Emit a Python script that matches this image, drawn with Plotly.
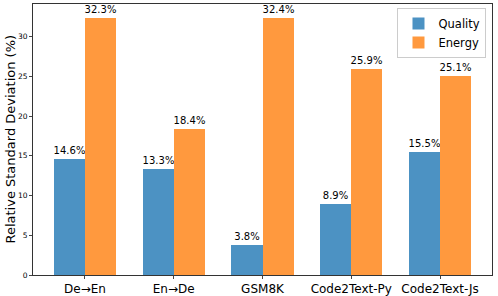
import plotly.graph_objects as go

categories = ["De→En", "En→De", "GSM8K", "Code2Text-Py", "Code2Text-Js"]
quality = [14.6, 13.3, 3.8, 8.9, 15.5]
energy = [32.3, 18.4, 32.4, 25.9, 25.1]
y_ticks = [0, 5, 10, 15, 20, 25, 30]

x = list(range(len(categories)))
w = 0.35
font = "DejaVu Sans"

fig = go.Figure()
fig.add_trace(go.Bar(
    x=[i - w / 2 for i in x], y=quality, width=w, name="Quality",
    marker=dict(color="#4c92c3", line=dict(width=0)),
    text=[f"{v:.1f}%" for v in quality], textposition="outside",
    constraintext="none", cliponaxis=False,
    outsidetextfont=dict(family=font, size=10, color="black"),
))
fig.add_trace(go.Bar(
    x=[i + w / 2 for i in x], y=energy, width=w, name="Energy",
    marker=dict(color="#ff993e", line=dict(width=0)),
    text=[f"{v:.1f}%" for v in energy], textposition="outside",
    constraintext="none", cliponaxis=False,
    outsidetextfont=dict(family=font, size=10, color="black"),
))

fig.add_annotation(
    text="Relative Standard Deviation (%)", textangle=-90,
    xref="paper", yref="paper", x=-0.05, y=0.5,
    xanchor="center", yanchor="middle", showarrow=False,
    font=dict(size=13, family=font, color="black"),
)

fig.update_layout(
    width=498, height=296,
    margin=dict(l=33, r=6, t=4, b=21, autoexpand=False),
    plot_bgcolor="white", paper_bgcolor="white",
    font=dict(family=font, color="black"),
    barmode="overlay", bargap=0,
    showlegend=True,
    legend=dict(x=0.988, y=0.985, xanchor="right", yanchor="top",
                bgcolor="rgba(255,255,255,0.8)", bordercolor="#cccccc",
                borderwidth=1, font=dict(size=11.5, family=font),
                tracegroupgap=0),
    xaxis=dict(range=[-0.585, 4.585], tickvals=x, ticktext=categories,
               tickfont=dict(size=12), showline=True, linecolor="#333333",
               linewidth=1, mirror=True, ticks="outside", ticklen=3,
               showgrid=False, zeroline=False, automargin=False),
    yaxis=dict(range=[0, 34.1], tickvals=y_ticks, tickfont=dict(size=7.5),
               showline=True, linecolor="#333333", linewidth=1, mirror=True,
               ticks="outside", ticklen=3, showgrid=False, zeroline=False,
               automargin=False),
)

fig.write_html("out.html", config={"displayModeBar": False},
               post_script="document.body.style.margin='0';document.body.style.padding='0';")
